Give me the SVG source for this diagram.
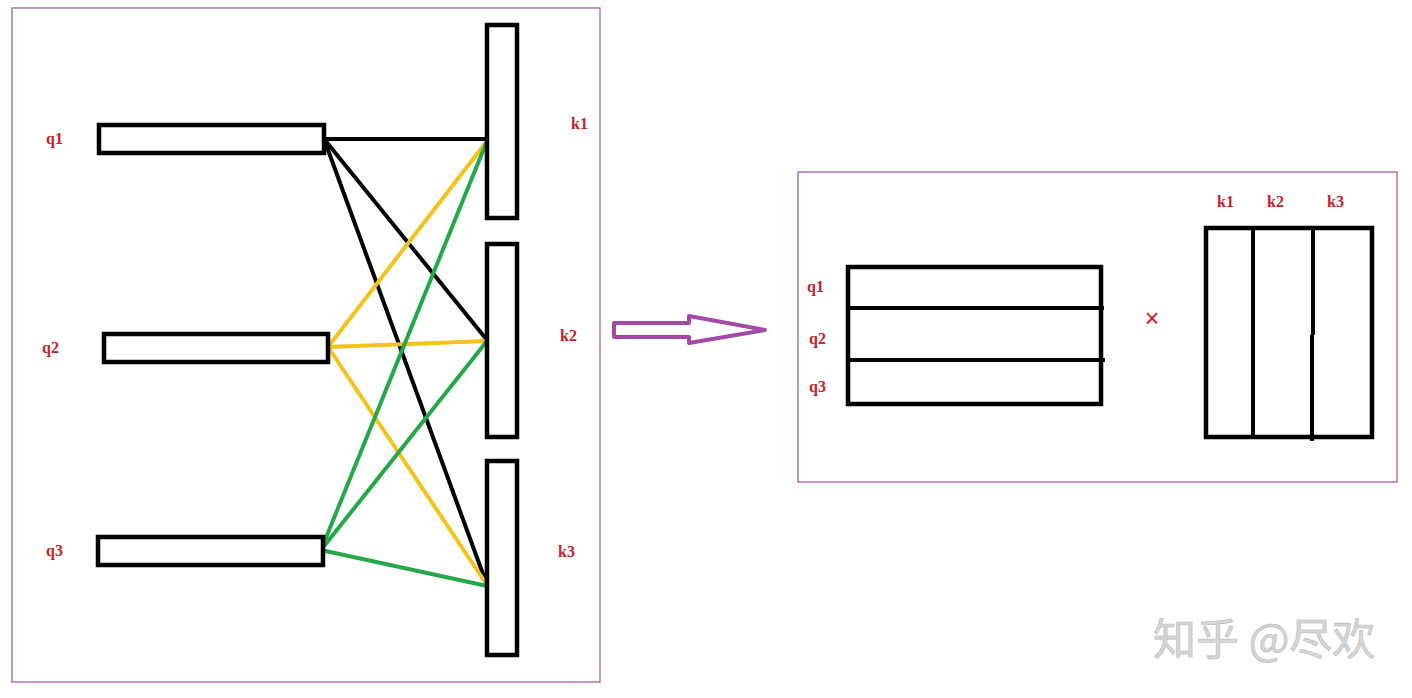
<svg xmlns="http://www.w3.org/2000/svg" width="1412" height="698" viewBox="0 0 1412 698">
<style>
.frame{fill:none;stroke:#a25cb0;stroke-width:1.3}
.box{fill:#fff;stroke:#000;stroke-width:4.5}
.lbl{font-family:"Liberation Serif",serif;font-weight:bold;font-size:16px;fill:#c8202a}
.bk{stroke:#000;stroke-width:4;fill:none}
.yl{stroke:#f5c21b;stroke-width:4;fill:none}
.gr{stroke:#24a84a;stroke-width:4;fill:none}
</style>
<rect width="1412" height="698" fill="#fff"/>
<rect class="frame" x="12" y="8" width="588" height="674"/>
<rect class="frame" x="798" y="172" width="599" height="310"/>
<g id="connectors">
<line class="bk" x1="324" y1="139" x2="487" y2="139"/>
<line class="bk" x1="324" y1="139" x2="487" y2="340"/>
<line class="bk" x1="324" y1="139" x2="487" y2="585"/>
<line class="yl" x1="328" y1="347" x2="487" y2="141"/>
<line class="yl" x1="328" y1="347" x2="487" y2="341"/>
<line class="yl" x1="328" y1="347" x2="487" y2="585"/>
<line class="gr" x1="321" y1="550" x2="487" y2="141"/>
<line class="gr" x1="321" y1="550" x2="487" y2="341"/>
<line class="gr" x1="321" y1="550" x2="487" y2="586"/>
</g>
<g id="q1"><rect class="box" x="99" y="125" width="225" height="28"/><text class="lbl" x="46" y="144">q1</text></g>
<g id="q2"><rect class="box" x="104" y="334" width="224" height="28"/><text class="lbl" x="42" y="353">q2</text></g>
<g id="q3"><rect class="box" x="98" y="537" width="225" height="28"/><text class="lbl" x="46" y="556">q3</text></g>
<g id="k1"><rect class="box" x="487" y="25" width="30" height="193"/><text class="lbl" x="571" y="129">k1</text></g>
<g id="k2"><rect class="box" x="487" y="244" width="30" height="193"/><text class="lbl" x="560" y="341">k2</text></g>
<g id="k3"><rect class="box" x="487" y="461" width="30" height="194"/><text class="lbl" x="558" y="557">k3</text></g>
<g id="arrow"><polygon points="614,323 689,323 689,316 765,330 689,343 689,337 614,337" fill="none" stroke="#a24aa6" stroke-width="4" stroke-linejoin="round"/></g>
<g id="Q">
<rect class="box" x="848" y="267" width="253" height="137"/>
<line class="bk" x1="848" y1="308" x2="1104" y2="308"/>
<line class="bk" x1="848" y1="360" x2="1105" y2="360"/>
<text class="lbl" x="807" y="292">q1</text>
<text class="lbl" x="809" y="344">q2</text>
<text class="lbl" x="809" y="392">q3</text>
</g>
<g id="times"><text x="1152" y="327" font-family="Liberation Sans,sans-serif" font-size="25" fill="#c8202a" text-anchor="middle">×</text></g>
<g id="K">
<rect class="box" x="1206" y="228" width="166" height="209"/>
<line class="bk" x1="1253" y1="228" x2="1253" y2="439"/>
<line class="bk" x1="1313" y1="228" x2="1313" y2="335"/>
<line class="bk" x1="1312" y1="335" x2="1312" y2="441"/>
<text class="lbl" x="1217" y="207">k1</text>
<text class="lbl" x="1267" y="207">k2</text>
<text class="lbl" x="1327" y="207">k3</text>
</g>
<text x="1153" y="655" font-family="Noto Sans CJK SC,sans-serif" font-size="43" fill="#d6d6d6" stroke="#b8b8b8" stroke-width="0.6">知乎 @尽欢</text>
</svg>
